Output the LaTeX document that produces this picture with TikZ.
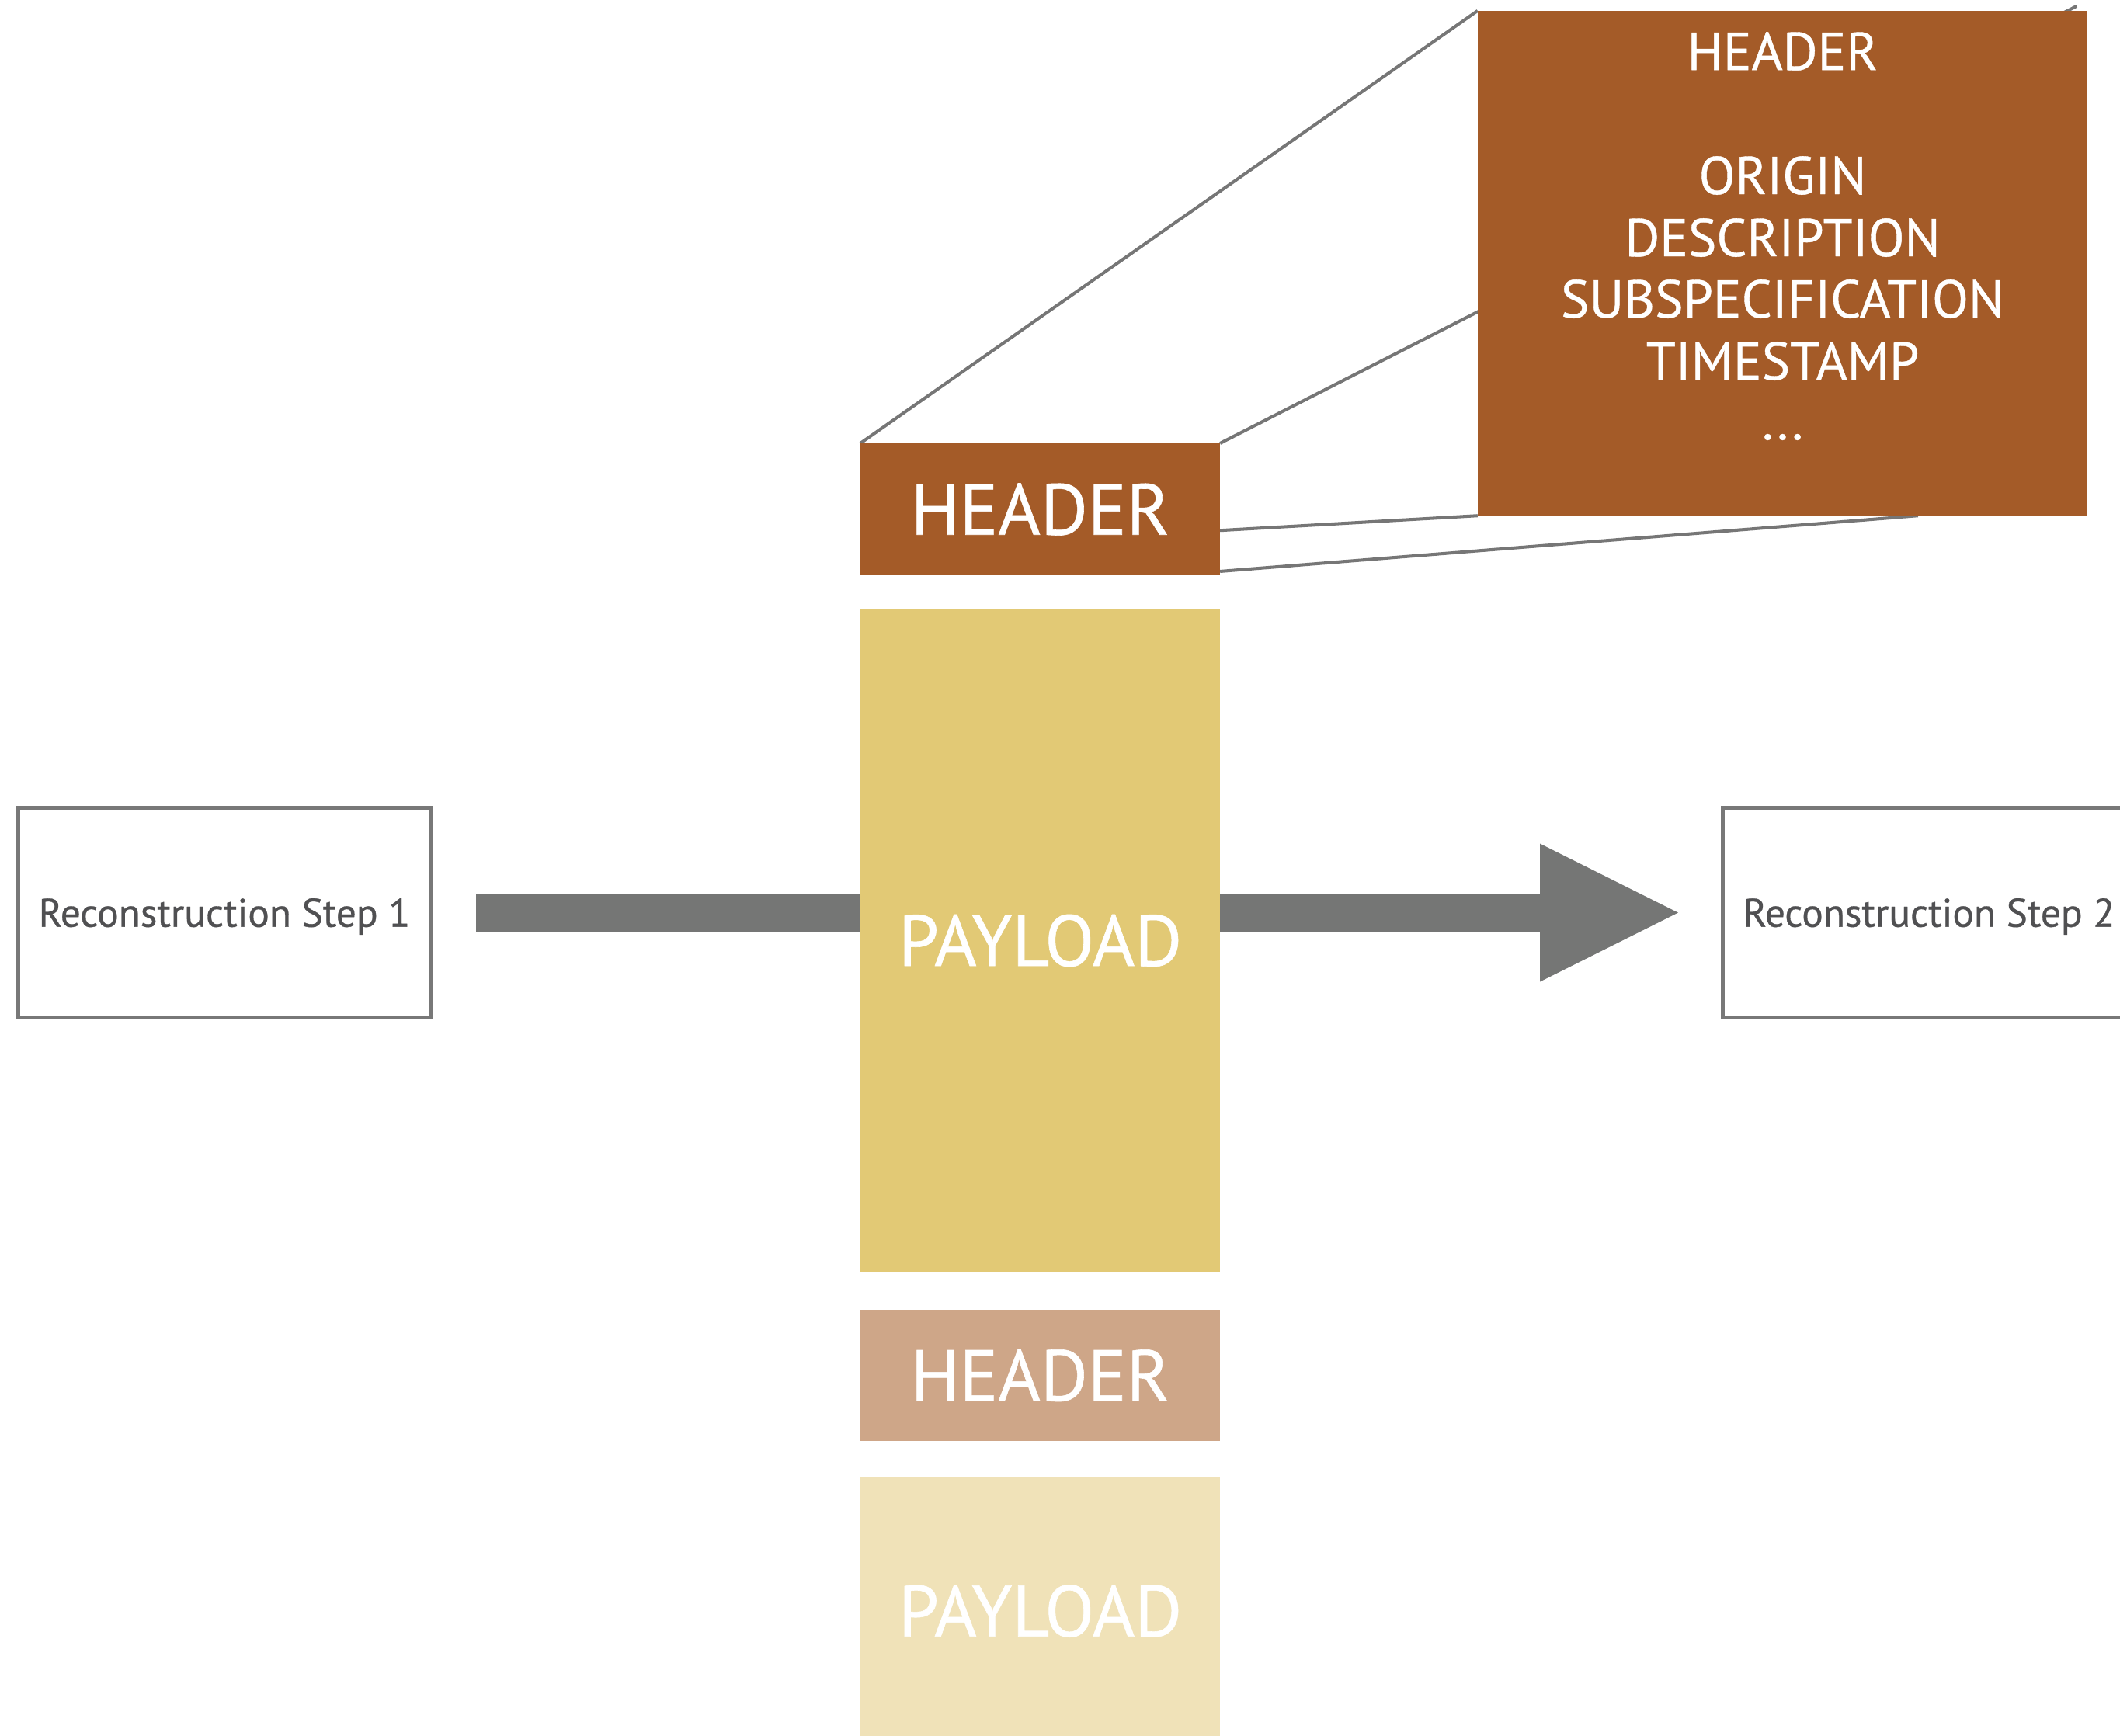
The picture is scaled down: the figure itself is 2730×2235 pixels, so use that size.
\documentclass[tikz,border=0pt]{standalone}
\usepackage{fontspec}
\setmainfont{PT Sans}
\newfontfamily\medfont{PT Sans}[FakeBold=0.6]
\usetikzlibrary{arrows.meta,calc}
\pgfdeclarelayer{bg}
\pgfsetlayers{bg,main}
\definecolor{hbrown}{HTML}{A45B28}
\definecolor{pyellow}{HTML}{E2C975}
\definecolor{hlight}{HTML}{CEA688}
\definecolor{plight}{HTML}{F0E2B8}
\definecolor{arrowgray}{HTML}{757675}
\definecolor{linegray}{HTML}{767676}
\definecolor{boxgray}{HTML}{787878}
\definecolor{textgray}{HTML}{505052}
\begin{document}
\begin{tikzpicture}[x=0.01cm,y=-0.01cm,
  blk/.style={inner sep=0pt, outer sep=0pt, minimum width=4.63cm, text=white,
    font=\medfont\fontsize{26.5}{30}\selectfont},
  stepbox/.style={draw=boxgray, line width=1.35pt, minimum width=5.31cm,
    minimum height=2.70cm, inner sep=0pt, outer sep=0pt, text=textgray,
    text height=10.3pt, text depth=0pt,
    font=\medfont\fontsize{14.6}{17}\selectfont},
  bigtxt/.style={inner sep=0pt, text=white, font=\medfont\fontsize{19.5}{22}\selectfont},
  callout/.style={draw=linegray, line width=1.15pt}]
\useasboundingbox (0,0) rectangle (2730,2235);

% reconstruction steps
\node[stepbox] (step1) at (289,1175.5) {Reconstruction Step 1};
\node[stepbox] (step2) at (2484,1175.5) {Reconstruction Step 2};

% big arrow
\draw[arrowgray, line width=13.9pt, shorten <=16.6pt, shorten >=16.3pt,
  -{Triangle[length=50.6pt, width=50.6pt, line width=0pt]}] (step1) -- (step2);

% message column
\node[blk, fill=hbrown, minimum height=1.70cm] (hdr) at (1339.5,656) {HEADER};
\node[blk, fill=pyellow, minimum height=8.53cm] (pay) at (1339.5,1211.5) {PAYLOAD};
\node[blk, fill=hlight, minimum height=1.69cm] (hdr2) at (1339.5,1771.5) {HEADER};
\node[blk, fill=plight, minimum height=3.44cm] (pay2) at (1339.5,2075) {PAYLOAD};

% enlarged header
\node[inner sep=0pt, outer sep=0pt, fill=hbrown, minimum width=7.85cm,
  minimum height=6.50cm] (big) at (2295.5,339) {};
\node[bigtxt] (t0) at (2295.5,66) {HEADER};
\node[bigtxt] (t1) at (2295.5,226) {ORIGIN};
\node[bigtxt] (t2) at (2295.5,306) {DESCRIPTION};
\node[bigtxt] (t3) at (2295.5,385) {SUBSPECIFICATION};
\node[bigtxt] (t4) at (2295.5,465) {TIMESTAMP};
\node[bigtxt] (t5) at (2295.5,563) {...};

% callout lines
\coordinate (c2) at ($(big.north east)+(-14,-6)$);
\coordinate (h3) at ($(hdr.north east)!0.66!(hdr.south east)$);
\coordinate (h4) at ($(hdr.north east)!0.97!(hdr.south east)$);
\coordinate (c4) at ($(big.south west)!0.722!(big.south east)$);
\begin{pgfonlayer}{bg}
\draw[callout] (hdr.north west) -- (big.north west);
\draw[callout] (hdr.north east) -- (c2);
\draw[callout] (h3) -- (big.south west);
\draw[callout] (h4) -- (c4);
\end{pgfonlayer}
\end{tikzpicture}
\end{document}
